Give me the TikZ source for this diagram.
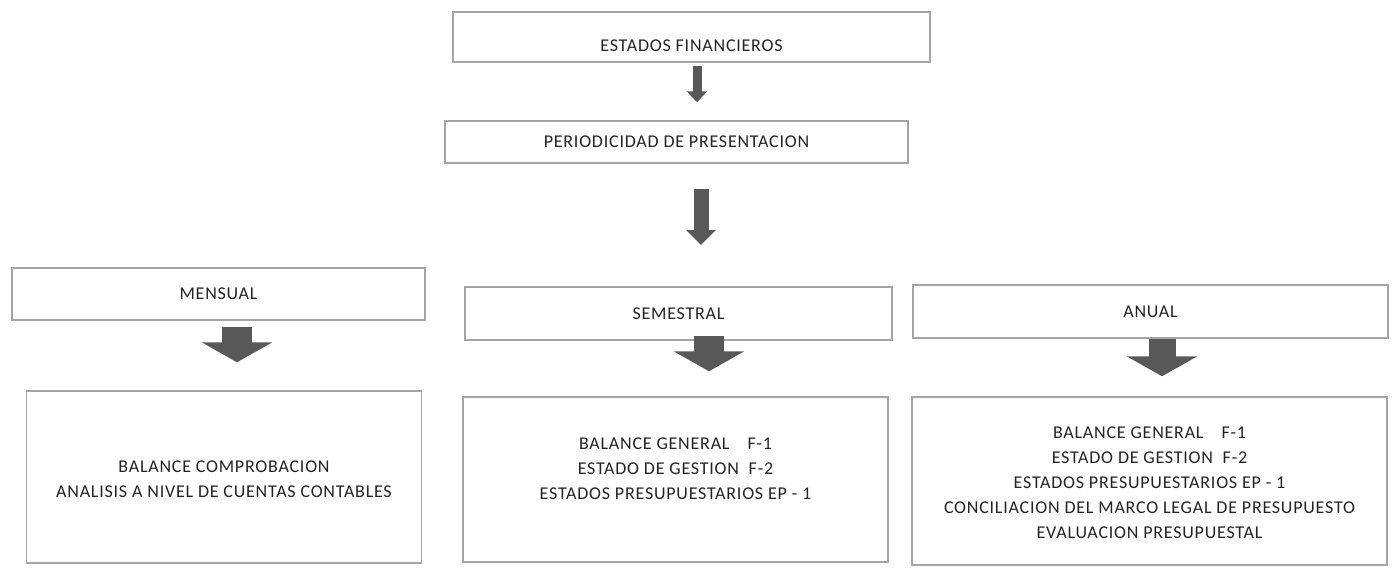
\documentclass[tikz,border=0pt]{standalone}
\usepackage{fontspec}
\setmainfont{Carlito}[LetterSpace=4.3]
\usetikzlibrary{arrows.meta}
\definecolor{boxline}{RGB}{165,165,165}
\definecolor{arrowgray}{RGB}{88,88,88}
\definecolor{textgray}{RGB}{35,35,35}
\tikzset{
  box/.style={draw=boxline, line width=1.5pt, rectangle, inner sep=0pt, text=textgray},
  txt/.style={align=center, text=textgray, inner sep=0pt},
  bigarrow/.style={draw=arrowgray, line width=30pt, -{Triangle[width=70pt,length=20pt]}}
}
\begin{document}
\begin{tikzpicture}[x=1pt, y=-1pt, font=\fontsize{18}{25}\selectfont]
\useasboundingbox (0,0) rectangle (1397,568);
\node[box, minimum width=477pt, minimum height=50pt, text height=28pt, text depth=0pt] (estados) at (691.5,37) {ESTADOS FINANCIEROS};
\node[box, minimum width=463pt, minimum height=42pt] (periodo) at (676.5,142) {PERIODICIDAD DE PRESENTACION};
\coordinate (split) at (701,245);

\node[box, minimum width=413pt, minimum height=52pt] (mensual) at (218.5,294) {MENSUAL};
\node[box, minimum width=427pt, minimum height=53pt] (semestral) at (678.5,313.5) {SEMESTRAL};
\node[box, minimum width=475pt, minimum height=53pt] (anual) at (1150.5,311.5) {ANUAL};

\node[box, minimum width=395pt, minimum height=172pt] (mensualc) at (224,477) {};
\node[box, minimum width=425pt, minimum height=165pt] (semestralc) at (675.5,479.5) {};
\node[box, minimum width=475pt, minimum height=168pt] (anualc) at (1149.5,481) {};

\node[txt] (mensualt) at (224,479.5) {BALANCE COMPROBACION\\ANALISIS A NIVEL DE CUENTAS CONTABLES};
\node[txt] (semestralt) at (675.5,469) {BALANCE GENERAL\quad F-1\\ESTADO DE GESTION\ \ F-2\\ESTADOS PRESUPUESTARIOS EP - 1};
\node[txt] (anualt) at (1149.5,483) {BALANCE GENERAL\quad F-1\\ESTADO DE GESTION\ \ F-2\\ESTADOS PRESUPUESTARIOS EP - 1\\CONCILIACION DEL MARCO LEGAL DE PRESUPUESTO\\EVALUACION PRESUPUESTAL};

\draw[draw=arrowgray, line width=9pt, -{Triangle[width=20pt,length=11pt]}, shorten <=3pt, shorten >=18pt] ([xshift=5.5pt]estados.south) -- ([xshift=20.5pt]periodo.north);
\draw[draw=arrowgray, line width=15pt, -{Triangle[width=29pt,length=15pt]}, shorten <=25pt] (split |- periodo.south) -- (split);
\draw[bigarrow, shorten <=6pt, shorten >=28pt] ([xshift=18.5pt]mensual.south) -- ([xshift=13pt]mensualc.north);
\draw[bigarrow, shorten <=-5pt, shorten >=25pt] ([xshift=30.5pt]semestral.south) -- ([xshift=33.5pt]semestralc.north);
\draw[bigarrow, line width=27pt, shorten <=0pt, shorten >=20pt] ([xshift=11.5pt]anual.south) -- ([xshift=12.5pt]anualc.north);
\end{tikzpicture}
\end{document}
